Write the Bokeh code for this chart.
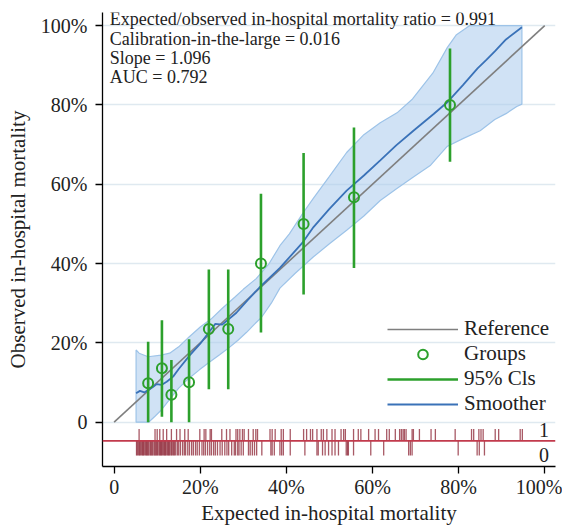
from bokeh.plotting import figure
from bokeh.models import ColumnDataSource, FixedTicker, Legend, LegendItem, Span
from bokeh.core.properties import value
from bokeh.embed import file_html
from bokeh.resources import INLINE

FONT = "Liberation Serif"

# ---------------- data ----------------
tick_values = [0, 20, 40, 60, 80, 100]
tick_labels = ["0", "20%", "40%", "60%", "80%", "100%"]

stats_lines = [
    "Expected/observed in-hospital mortality ratio = 0.991",
    "Calibration-in-the-large = 0.016",
    "Slope = 1.096",
    "AUC = 0.792",
]

ref_x = [0, 100]
ref_y = [0, 100]

group_x = [7.9, 11.1, 13.3, 17.4, 22.0, 26.5, 34.1, 44.0, 55.7, 78.0]
group_y = [9.8, 13.6, 6.9, 10.1, 23.5, 23.5, 40.0, 50.0, 56.7, 80.0]
ci_low = [0.0, 1.4, 0.0, 0.0, 8.3, 8.3, 22.6, 32.2, 38.9, 65.7]
ci_high = [20.3, 25.7, 15.7, 20.9, 38.5, 38.5, 57.6, 67.9, 74.3, 94.2]

smooth_x = [5.1, 6.0, 7.0, 7.9, 9.0, 9.9, 11.0, 12.2, 13.7, 15.0, 17.6, 20.0, 22.1,
            23.5, 25.1, 28.4, 31.0, 33.7, 38.5, 43.7, 46.3, 50.0, 54.0, 58.0, 61.8,
            65.5, 69.5, 74.2, 77.3, 81.0, 84.4, 86.5, 88.4, 91.0, 94.7]
smooth_y = [7.3, 7.9, 7.5, 8.1, 8.9, 9.6, 9.4, 10.2, 11.5, 13.4, 16.9, 19.8, 22.8,
            24.8, 24.6, 27.6, 30.8, 33.9, 38.9, 45.2, 49.2, 53.8, 58.4, 62.2, 66.0,
            69.8, 73.5, 77.7, 80.6, 85.0, 89.2, 91.4, 93.5, 96.5, 99.6]

band_up_x = [5.1, 5.8, 7.9, 10.9, 12.9, 15.0, 17.4, 20.0, 22.5, 25.0, 28.0, 30.0,
             33.0, 36.0, 38.5, 40.7, 43.7, 46.3, 50.0, 54.0, 58.0, 61.8, 65.7, 69.3,
             74.0, 77.4, 79.5, 82.6, 94.7]
band_up_y = [18.2, 17.4, 16.5, 16.9, 17.4, 19.0, 21.5, 24.0, 26.0, 28.6, 31.5, 33.5,
             36.2, 40.0, 44.5, 47.5, 52.5, 56.5, 62.0, 68.0, 72.5, 75.5, 78.0, 81.5,
             88.0, 94.5, 97.7, 100.0, 100.0]

band_lo_x = [5.1, 8.0, 9.5, 10.9, 13.3, 15.0, 17.4, 19.8, 22.1, 24.5, 26.7, 28.7,
             30.7, 32.5, 34.2, 36.5, 38.5, 42.0, 46.3, 50.0, 54.0, 58.0, 61.8, 65.5,
             69.5, 73.5, 77.3, 81.0, 85.0, 88.4, 91.0, 93.5, 94.7]
band_lo_y = [0.0, 0.0, 1.5, 3.0, 6.3, 8.6, 11.1, 13.2, 15.1, 17.0, 18.8, 20.6,
             22.6, 24.6, 26.4, 30.0, 33.8, 37.5, 41.7, 45.0, 48.4, 52.0, 55.9, 58.8,
             61.8, 64.8, 69.5, 71.5, 73.5, 76.3, 77.8, 79.6, 80.2]

rug_events = [5.8, 9.5, 10.0, 10.6, 11.4, 12.2, 13.3, 14.5, 15.3, 16.4, 17.2, 19.9,
              20.9, 21.3, 22.3, 22.6, 25.0, 26.1, 26.9, 28.3,
              28.7, 29.2, 29.8, 30.2, 31.2, 32.3, 32.9, 33.3, 36.2, 36.7, 37.4, 38.8,
              39.3, 40.9, 44.0, 44.7, 45.6, 46.1, 47.1, 48.1, 48.6, 49.4, 50.6, 51.3, 52.7,
              53.3, 53.7, 55.6, 56.7, 57.3, 59.1, 60.6, 61.4, 63.3, 63.9, 65.3, 66.3,
              66.7, 67.1, 67.4, 67.8, 69.2, 69.5, 70.9, 73.6, 74.6,
              79.2, 83.0, 83.5, 84.7, 85.2, 85.7, 88.5, 89.3, 94.3, 94.8]
rug_nonevents = [5.2, 5.4, 5.7, 5.9, 6.1, 6.4, 6.6, 6.8, 7.0, 7.3, 7.5, 7.7, 7.9, 8.1,
                 8.4, 8.6, 8.8, 9.0, 9.3, 9.5, 9.7, 9.9, 10.1, 10.4, 10.6, 10.8, 11.0,
                 11.2, 11.5, 11.7, 11.9, 12.1, 12.4, 12.6, 12.8, 13.0, 13.3, 13.5, 13.8,
                 14.0, 14.3, 14.7, 15.0, 15.4, 15.9, 16.3, 16.6, 17.1, 17.5, 18.0, 18.4,
                 18.9, 19.3, 19.8, 20.4, 20.8, 21.2, 21.7, 22.2, 22.6, 23.1, 23.5, 24.0,
                 24.6, 25.1, 25.7, 26.2, 26.6, 27.3, 27.9, 28.2,
                 28.7, 29.0, 29.5, 30.0, 31.2, 31.6, 32.1, 32.6, 33.1, 34.3, 36.4, 36.7,
                 37.2, 38.5, 38.9, 39.3, 40.9, 44.3, 47.1, 47.4, 48.4, 49.0, 49.8, 50.6,
                 51.3, 52.1,
                 53.9, 54.2, 54.4, 55.6, 59.6, 62.6, 68.4, 68.8, 69.2,
                 79.9, 84.3, 84.8, 86.0]

outcome_labels = ["1", "0"]
x_title = "Expected in-hospital mortality"
y_title = "Observed in-hospital mortality"

# ---------------- figure ----------------
p = figure(width=562, height=527, output_backend="svg", toolbar_location=None,
           x_range=(-2.7, 102.5), y_range=(-11.17, 103.3),
           min_border_left=102, min_border_right=7, min_border_top=12,
           min_border_bottom=60)
p.outline_line_color = None
p.background_fill_color = "white"

# grid
p.xgrid.grid_line_color = None
p.ygrid.ticker = FixedTicker(ticks=tick_values)
p.ygrid.grid_line_color = "#dfe9f0"
p.ygrid.grid_line_width = 1.5

# axes
for ax in (p.xaxis[0], p.yaxis[0]):
    ax.ticker = FixedTicker(ticks=tick_values)
    ax.major_label_overrides = {v: l for v, l in zip(tick_values, tick_labels)}
    ax.minor_tick_line_color = None
    ax.major_tick_in = 0
    ax.major_tick_out = 7
    ax.axis_line_width = 1.3
    ax.major_tick_line_width = 1.3
    ax.axis_line_color = "black"
    ax.major_tick_line_color = "black"
    ax.major_label_text_font = FONT
    ax.major_label_text_font_size = "20px"
    ax.major_label_text_color = "#222222"
    ax.axis_label_text_font = FONT
    ax.axis_label_text_font_size = "21px"
    ax.axis_label_text_font_style = "normal"
    ax.axis_label_text_color = "#222222"

p.xaxis.axis_label = x_title
p.yaxis.axis_label = y_title
p.xaxis.major_label_standoff = 2
p.xaxis.axis_label_standoff = 0
p.yaxis.major_label_standoff = 8
p.yaxis.axis_label_standoff = 8

# smoother band
band_x = band_up_x + band_lo_x[::-1]
band_y = band_up_y + band_lo_y[::-1]
p.patch(band_x, band_y, fill_color="#a9cbec", fill_alpha=0.55,
        line_color="#9dc3e8", line_width=1.2)

# reference line
r_ref = p.line(ref_x, ref_y, line_color="#7f7f7f", line_width=1.6)

# smoother
r_smooth = p.line(smooth_x, smooth_y, line_color="#3a72b8", line_width=1.8)

# CIs and groups
src = ColumnDataSource(dict(x=group_x, y=group_y, lo=ci_low, hi=ci_high))
r_ci = p.segment(x0="x", y0="lo", x1="x", y1="hi", source=src,
                 line_color="#2ca02c", line_width=2.6)
r_grp = p.scatter("x", "y", source=src, marker="circle", size=10,
                  line_color="#2ca02c", line_width=2, fill_alpha=0)

# rug
rug_mid = -4.7
p.segment(x0=rug_events, y0=[-1.7] * len(rug_events), x1=rug_events,
          y1=[rug_mid] * len(rug_events), line_color="#8b2232", line_alpha=0.75,
          line_width=1.3)
p.segment(x0=rug_nonevents, y0=[rug_mid] * len(rug_nonevents), x1=rug_nonevents,
          y1=[-8.4] * len(rug_nonevents), line_color="#8b2232", line_alpha=0.75,
          line_width=1.3)
p.add_layout(Span(location=rug_mid, dimension="width", line_color="#c23a4c",
                  line_width=1.6))

p.text(x=[101.0, 101.0], y=[-1.95, -8.2], text=outcome_labels,
       text_font=value(FONT), text_font_size="20px", text_align="right",
       text_baseline="middle", text_color="#222222")

# stats text
p.text(x=[-1.0] * 4, y=[101.7, 96.7, 91.9, 87.1], text=stats_lines,
       text_font=value(FONT), text_font_size="18px", text_align="left",
       text_baseline="middle", text_color="#222222")

# legend
legend = Legend(items=[
    LegendItem(label="Reference", renderers=[r_ref]),
    LegendItem(label="Groups", renderers=[r_grp]),
    LegendItem(label="95% Cls", renderers=[r_ci]),
    LegendItem(label="Smoother", renderers=[r_smooth]),
], location=(285, 50), orientation="vertical")
legend.label_text_font = FONT
legend.label_text_font_size = "21px"
legend.label_text_color = "#222222"
legend.background_fill_alpha = 0
legend.border_line_color = None
legend.padding = 0
legend.margin = 0
legend.spacing = 0
legend.glyph_width = 71
legend.glyph_height = 24
legend.label_height = 24
legend.label_standoff = 6
p.add_layout(legend, "center")

open("out.html", "w").write(file_html(p, INLINE))
